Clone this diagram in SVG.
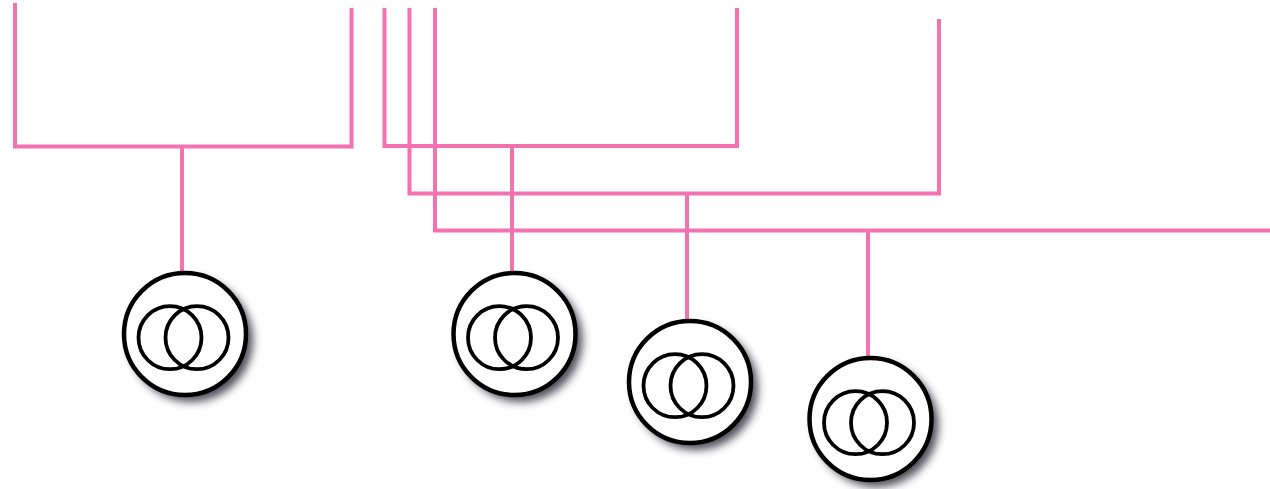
<svg xmlns="http://www.w3.org/2000/svg" width="1270" height="489" viewBox="0 0 1270 489">
<defs>
<filter id="sh" x="-20%" y="-20%" width="150%" height="150%"><feGaussianBlur stdDeviation="4"/></filter>
<g id="tr">
<circle cx="6" cy="6" r="62" fill="#30303c" opacity="0.85" filter="url(#sh)"/>
<circle cx="0" cy="0" r="61" fill="#fff" stroke="#000" stroke-width="4.500"/>
<circle cx="-15" cy="3.700" r="31.500" fill="none" stroke="#000" stroke-width="3.800"/>
<circle cx="12" cy="3.700" r="31.500" fill="none" stroke="#000" stroke-width="3.800"/>
</g>
</defs>
<style>.c{fill:none;stroke:#f472b0;stroke-width:4}</style>
<rect width="1270" height="489" fill="#fff"/>
<g id="connectors">
<path class="c" d="M15 3V146.500H351.500V8M182 146.500V272"/>
<path class="c" d="M384.500 8V146H737V8M512 146V272"/>
<path class="c" d="M409.500 8V193.500H939V19M687 193.500V321"/>
<path class="c" d="M435 8V230.500H1270M868 230.500V357"/>
</g>
<g id="node1"><use href="#tr" x="185" y="334"/></g>
<g id="node2"><use href="#tr" x="514.500" y="334"/></g>
<g id="node3"><use href="#tr" x="690" y="382"/></g>
<g id="node4"><use href="#tr" x="870.500" y="419"/></g>
</svg>
